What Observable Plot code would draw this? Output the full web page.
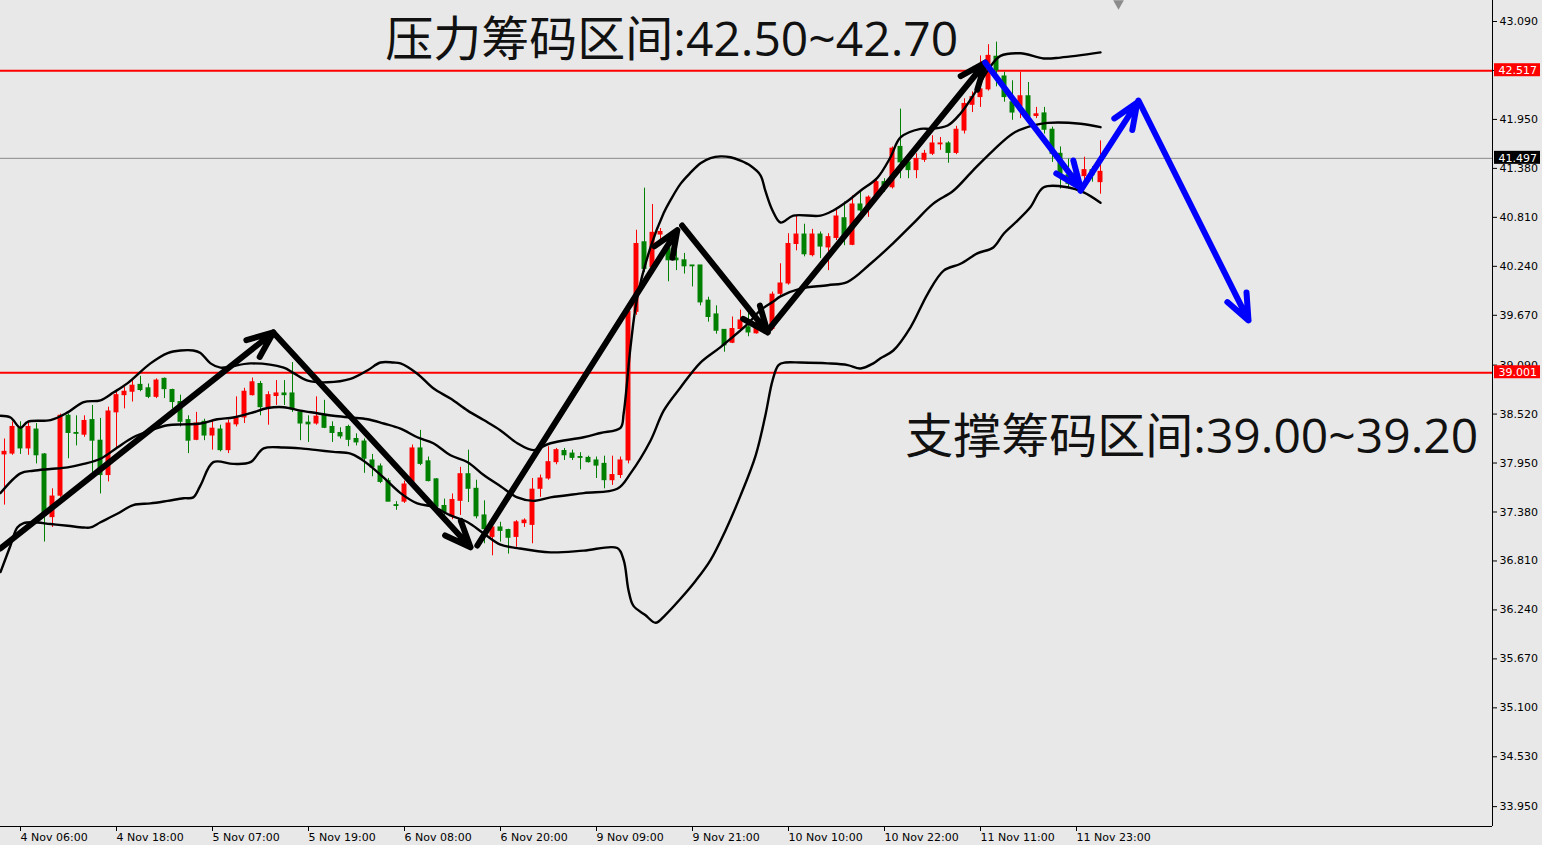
<!DOCTYPE html>
<html><head><meta charset="utf-8">
<script src="https://cdn.jsdelivr.net/npm/d3@7"></script>
<script src="https://cdn.jsdelivr.net/npm/@observablehq/plot@0.6"></script>
<style>
html,body{margin:0;padding:0;background:#e8e8e8;}
#chart svg{display:block;}
</style></head><body><div id="chart"></div>
<script>
// ---- data (hourly bars, index 0 = 4 Nov 06:00) ----
const firstIndex = -2;
const open  = [38.05,38.06,38.36,38.12,38.34,38.05,37.32,37.57,38.50,38.30,38.28,38.45,38.21,37.81,38.54,38.74,38.78,38.86,38.82,38.72,38.93,38.80,38.66,38.45,38.22,38.43,38.27,38.34,38.10,38.40,38.48,38.74,38.87,38.60,38.73,38.76,38.76,38.54,38.42,38.41,38.50,38.37,38.30,38.37,38.23,38.20,37.98,37.91,37.74,37.46,37.50,37.71,38.12,37.97,37.76,37.45,37.33,37.51,37.82,37.65,37.34,37.09,37.20,37.17,37.09,37.25,37.23,37.65,37.77,37.96,38.09,38.06,38.02,38.01,37.98,37.94,37.75,37.81,37.98,39.71,40.52,40.23,40.61,40.45,40.33,40.31,40.25,40.25,39.84,39.68,39.50,39.35,39.51,39.53,39.46,39.51,39.51,39.92,40.04,40.50,40.61,40.37,40.61,40.46,40.57,40.80,40.49,40.96,40.93,41.06,41.22,41.16,41.63,41.45,41.36,41.48,41.55,41.66,41.67,41.56,41.82,42.12,42.21,42.30,42.68,42.45,42.15,42.10,42.22,41.99,42.02,41.83,41.55,41.30,41.33,41.29,41.36,41.22];
const high  = [38.23,38.43,38.43,38.43,38.41,38.06,37.65,38.52,38.52,38.50,38.50,38.62,38.47,38.60,38.78,38.83,38.93,38.96,38.87,38.93,38.94,38.81,38.74,38.50,38.54,38.46,38.45,38.39,38.45,38.72,38.82,38.94,38.90,38.78,38.91,38.91,39.12,38.56,38.50,38.72,38.68,38.43,38.36,38.39,38.29,38.23,38.05,37.94,37.77,37.50,37.74,38.16,38.33,38.02,37.77,37.53,37.59,37.90,38.10,37.75,37.51,37.21,37.26,37.18,37.28,37.30,37.77,37.81,38.14,38.12,38.12,38.10,38.07,38.03,38.02,38.03,38.03,38.02,39.73,40.66,41.15,40.96,40.68,40.55,40.42,40.39,40.25,40.25,39.88,39.78,39.50,39.65,39.73,39.71,39.57,39.62,39.94,40.27,40.62,40.83,40.73,40.67,40.64,40.62,40.91,40.99,41.06,41.12,41.06,41.26,41.26,41.63,42.07,41.49,41.55,41.59,41.76,41.74,41.69,41.87,42.19,42.27,42.69,42.82,42.85,42.50,42.40,42.50,42.38,42.09,42.09,41.86,41.63,41.49,41.45,41.51,41.40,41.70];
const low   = [37.46,38.04,38.05,38.04,37.94,37.03,37.20,37.55,38.00,38.15,38.25,37.81,37.59,37.73,38.12,38.58,38.66,38.78,38.70,38.70,38.70,38.58,38.37,38.06,38.21,38.21,38.10,38.08,38.06,38.37,38.41,38.73,38.50,38.39,38.62,38.62,38.54,38.21,38.19,38.39,38.35,38.19,38.23,38.14,38.15,37.83,37.79,37.71,37.50,37.40,37.48,37.70,37.92,37.73,37.44,37.30,37.29,37.34,37.49,37.30,37.01,36.87,37.03,36.89,36.97,37.20,37.01,37.55,37.75,37.93,37.98,37.98,37.87,37.95,37.77,37.65,37.69,37.77,37.94,39.67,40.17,40.21,40.52,40.06,40.19,40.15,40.00,39.78,39.59,39.45,39.24,39.34,39.49,39.42,39.45,39.48,39.49,39.90,40.02,40.42,40.35,40.35,40.33,40.19,40.54,40.48,40.48,40.87,40.81,41.05,41.10,41.14,41.26,41.26,41.26,41.45,41.53,41.59,41.44,41.54,41.78,42.03,42.09,42.28,42.33,42.15,41.94,41.96,41.96,41.96,41.78,41.45,41.14,41.14,41.14,41.20,41.22,41.08];
const close = [38.08,38.37,38.12,38.37,38.04,37.34,37.56,38.50,38.30,38.29,38.44,38.21,37.81,38.55,38.74,38.78,38.85,38.80,38.72,38.91,38.81,38.66,38.43,38.21,38.41,38.27,38.35,38.10,38.41,38.48,38.78,38.89,38.60,38.74,38.76,38.74,38.58,38.41,38.40,38.49,38.36,38.30,38.26,38.22,38.19,38.00,37.90,37.73,37.50,37.45,37.70,38.12,37.94,37.74,37.44,37.38,37.52,37.82,37.65,37.33,37.18,37.20,37.16,37.08,37.26,37.28,37.64,37.77,37.96,38.10,38.04,38.01,38.01,37.96,37.92,37.75,37.81,37.98,39.71,40.50,40.21,40.63,40.64,40.31,40.31,40.24,40.24,39.82,39.65,39.49,39.32,39.51,39.61,39.47,39.52,39.59,39.91,40.04,40.50,40.61,40.38,40.61,40.47,40.58,40.82,40.59,40.96,40.89,41.04,41.22,41.16,41.61,41.45,41.36,41.49,41.55,41.67,41.67,41.56,41.83,42.13,42.21,42.30,42.69,42.52,42.21,42.03,42.22,41.98,42.01,41.83,41.55,41.30,41.20,41.27,41.36,41.30,41.34];

const timeLabels = ["4 Nov 06:00","4 Nov 18:00","5 Nov 07:00","5 Nov 19:00","6 Nov 08:00","6 Nov 20:00","9 Nov 09:00","9 Nov 21:00","10 Nov 10:00","10 Nov 22:00","11 Nov 11:00","11 Nov 23:00"];
const barsPerLabel = 12;
const priceTicks = [43.090,42.520,41.950,41.380,40.810,40.240,39.670,39.090,38.520,37.950,37.380,36.810,36.240,35.670,35.100,34.530,33.950];

// Bollinger bands: [bar index, price]
const upperBand = [[-2.5,38.50],[-1.25,38.48],[0,38.36],[0.9,38.43],[3.75,38.45],[5.9,38.54],[7.9,38.66],[10,38.68],[11.6,38.77],[13.4,38.88],[16.25,39.11],[18.4,39.23],[20,39.26],[21.6,39.26],[22.5,39.23],[23.75,39.11],[25,39.06],[28.75,39.11],[32.9,39.06],[34.1,39.00],[35.9,38.91],[38.4,38.89],[41.25,38.93],[43.4,39.03],[45,39.12],[46.6,39.12],[47.5,39.11],[49.6,38.99],[51.6,38.82],[53.75,38.70],[55.9,38.56],[57.9,38.45],[60,38.33],[62.1,38.18],[64.1,38.10],[66.25,38.18],[70.4,38.25],[72.5,38.30],[75,38.36],[75.4,38.53],[76.25,39.30],[77.1,39.88],[78.75,40.46],[80.4,40.86],[81.25,41.01],[82.5,41.20],[83.75,41.33],[85,41.44],[86.25,41.50],[87.5,41.52],[88.75,41.51],[90,41.47],[91.25,41.41],[92.5,41.30],[93.1,41.12],[94,40.89],[95,40.75],[96.6,40.83],[100,40.83],[101.6,40.89],[103.4,41.00],[105,41.12],[107.1,41.27],[108.75,41.51],[110,41.74],[112.5,41.84],[113.75,41.84],[115.9,41.88],[117.5,42.02],[119.1,42.23],[120.9,42.52],[122.5,42.69],[125,42.72],[127.9,42.66],[130,42.67],[135,42.73]];
const middleBand = [[-2.5,37.60],[0,37.83],[1.6,37.86],[3.75,37.88],[5.9,37.90],[7.9,37.94],[10,38.00],[12.1,38.13],[14.1,38.25],[16.25,38.33],[18.4,38.39],[20.4,38.40],[22.5,38.41],[24.6,38.46],[26.6,38.48],[28.75,38.53],[30.9,38.59],[32.9,38.60],[35,38.56],[37.1,38.53],[39.1,38.50],[41.25,38.48],[43.4,38.46],[45.4,38.41],[47.5,38.35],[49.6,38.25],[51.6,38.18],[53.75,38.04],[55.9,37.96],[57.9,37.81],[60,37.68],[62.1,37.55],[64.1,37.51],[66.25,37.55],[70.4,37.60],[74.6,37.65],[76.25,37.83],[78.75,38.21],[80.4,38.56],[82.5,38.83],[85,39.12],[87.5,39.30],[90.9,39.57],[92.5,39.73],[94.1,39.83],[95,39.89],[97.5,39.98],[100.9,40.02],[103.4,40.06],[106.25,40.27],[109.1,40.51],[111.6,40.74],[114.1,40.97],[116.6,41.12],[119.1,41.36],[121.6,41.59],[124.1,41.79],[126.6,41.88],[128.4,41.91],[132.5,41.90],[135,41.86]];
const lowerBand = [[-2.5,36.68],[-1.25,36.99],[-0.4,37.20],[0.4,37.25],[1.6,37.26],[3.75,37.24],[5.9,37.22],[7.9,37.20],[8.75,37.20],[10,37.26],[12.1,37.36],[14.1,37.46],[16.25,37.48],[18.4,37.51],[20.4,37.54],[21.6,37.55],[22.5,37.69],[24.1,37.96],[26.6,37.94],[28.75,37.96],[30.4,38.12],[32.9,38.13],[35,38.12],[37.1,38.10],[39.1,38.08],[41.25,38.06],[42.5,38.00],[43.4,37.94],[45.4,37.78],[47.5,37.60],[49.6,37.48],[51.6,37.44],[53.75,37.34],[55.9,37.26],[57.9,37.13],[60,37.00],[62.1,36.96],[66.25,36.91],[70.4,36.93],[74.6,36.96],[75.4,36.82],[76,36.47],[76.6,36.29],[78.1,36.18],[79.4,36.09],[80.6,36.18],[82.5,36.37],[84.4,36.58],[86.25,36.82],[88.1,37.16],[90,37.57],[91.9,38.04],[93.1,38.50],[94,38.91],[94.75,39.09],[95.6,39.12],[97.5,39.12],[100.9,39.11],[103.4,39.09],[105,39.05],[106.6,39.11],[107.5,39.17],[109.1,39.26],[111.25,39.53],[113.4,39.92],[115.4,40.19],[117.5,40.27],[119.6,40.39],[121.6,40.46],[122.9,40.62],[124.6,40.77],[126.25,40.93],[127.9,41.16],[130.9,41.16],[132.9,41.10],[135,40.98]];

// levels and price markers on the right axis
const zoneLevels = [42.517, 39.001];
const bidLevel = 41.497;
const priceMarkers = [{v:42.517, bg:"#ff0000"}, {v:41.497, bg:"#000000"}, {v:39.001, bg:"#ff0000"}];

// hand-drawn trend arrows: [x1, y1, x2, y2] in (bar index, price)
const blackArrows = [[-2.5,36.955,31.6,39.47],[31.6,39.47,56.25,36.97],[57.1,36.99,82.1,40.66],[82.7,40.715,93.4,39.47],[93.4,39.49,120.6,42.61]];
const blueArrows = [[120.6,42.61,132.5,41.157],[132.5,41.12,139.6,42.147],[139.75,42.17,153.5,39.61]];

const annotations = [
  {text:"压力筹码区间:42.50~42.70", x:45.6, y:42.87},
  {text:"支撑筹码区间:39.00~39.20", x:110.6, y:38.25}
];
const shiftMarker = [{x:137.25, y:43.30}];

// ---- chart ----
const xDomain = [-2.5, 184];
const yDomain = [33.7187, 43.3345];
const candles = open.map((o,k)=>({i:firstIndex+k, o, h:high[k], l:low[k], c:close[k]}));
const UP = "#ff0000", DOWN = "#008000";
const col = d => d.c >= d.o ? UP : DOWN;
const toArrow = (a, color) => ({x1:a[0], y1:a[1], x2:a[2], y2:a[3], color});
const arrows = [...blackArrows.map(a=>toArrow(a,"#000000")), ...blueArrows.map(a=>toArrow(a,"#0000ff"))];
const xTicks = timeLabels.map((_,k)=>k*barsPerLabel);

const bandLine = data => Plot.line(data, {x:d=>d[0], y:d=>d[1], stroke:"#000", strokeWidth:2.4, curve:"catmull-rom"});

const chart = Plot.plot({
  width:1542, height:845,
  marginLeft:0, marginRight:50, marginTop:0, marginBottom:19,
  style:{background:"#e8e8e8", fontFamily:"'DejaVu Sans', sans-serif", fontSize:"11px", color:"#000", overflow:"visible"},
  x:{domain:xDomain, axis:null},
  y:{domain:yDomain, axis:null},
  color:{type:"identity"},
  marks:[
    Plot.ruleY([bidLevel], {stroke:"#8a8a8a", strokeWidth:1}),
    Plot.ruleY(zoneLevels, {stroke:"#ff0000", strokeWidth:2}),
    Plot.ruleX(candles, {x:"i", y1:"l", y2:"h", stroke:col, strokeWidth:1}),
    Plot.rect(candles, {x1:d=>d.i-0.31, x2:d=>d.i+0.31, y1:"o", y2:"c", fill:col, insetTop:-0.5, insetBottom:-0.5}),
    bandLine(upperBand),
    bandLine(middleBand),
    bandLine(lowerBand),
    Plot.arrow(arrows, {x1:"x1", y1:"y1", x2:"x2", y2:"y2", stroke:"color", strokeWidth:6, headLength:7, headAngle:45, strokeLinecap:"round", strokeLinejoin:"round"}),
    Plot.text(annotations, {x:"x", y:"y", text:"text", textAnchor:"start", lineAnchor:"middle", fontSize:48, fontFamily:"'Open Sans','Noto Sans CJK SC',sans-serif", fill:"#111"}),
    Plot.ruleX([xDomain[1]], {stroke:"#000", strokeWidth:1}),
    Plot.ruleY([yDomain[0]], {stroke:"#000", strokeWidth:1}),
    Plot.axisY({ticks:priceTicks, anchor:"right", tickSize:4, tickPadding:3, tickFormat:d3.format(".3f"), fontSize:11}),
    Plot.axisX({ticks:xTicks, anchor:"bottom", tickSize:5, tickPadding:2, textAnchor:"start", tickFormat:d=>timeLabels[d/barsPerLabel], fontSize:11}),
    Plot.rect(priceMarkers, {x1:xDomain[1], x2:xDomain[1], y1:"v", y2:"v", fill:"bg", insetLeft:2, insetRight:-48, insetTop:-7, insetBottom:-6}),
    Plot.text(priceMarkers, {x:xDomain[1], y:"v", text:d=>d3.format(".3f")(d.v), dx:6, textAnchor:"start", fill:"#fff", fontSize:11}),
    Plot.dot(shiftMarker, {x:"x", y:"y", symbol:"triangle", rotate:180, fill:"#8c8c8c", r:4})
  ]
});
document.getElementById("chart").appendChild(chart);
</script>
</body></html>
